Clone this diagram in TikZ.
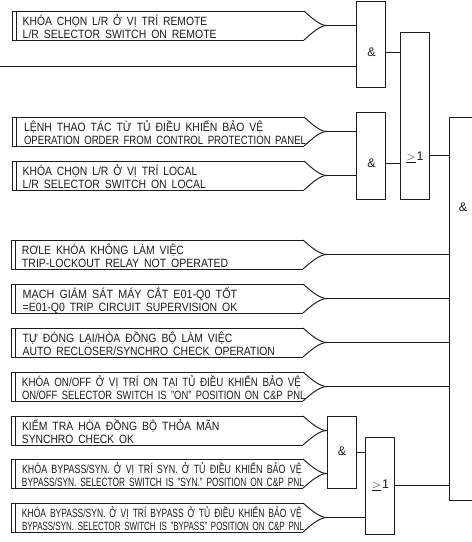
\documentclass[tikz,border=0pt]{standalone}
\usepackage{fontspec}
\setmainfont[WordSpace=1.7]{Liberation Sans}
\usetikzlibrary{calc}
\definecolor{ink}{HTML}{1C1C1C}
\tikzset{
  wire/.style={draw=ink,line width=0.95pt},
  gate/.style={draw=ink,line width=0.95pt,rectangle,inner sep=0pt,outer sep=0pt,minimum width=29pt},
  captxt/.style={anchor=base west,inner sep=0pt,outer sep=0pt,text=ink,font=\fontsize{12}{13}\selectfont},
  sym/.style={inner sep=0pt,outer sep=0pt,text=ink,font=\fontsize{12.5}{13}\selectfont}
}
% fit text horizontally to a target width
\newcommand{\fitw}[2]{\setbox0\hbox{#2}\pgfmathsetmacro{\myr}{#1/\the\wd0}\scalebox{\myr}[1]{\box0}}
% name, xleft, top, textx, end1, text1, end2, text2
\newcommand{\inbox}[8]{%
  \coordinate (#1-tl) at (#2,#3);
  \coordinate (#1-bl) at (#2,#3+29);
  \coordinate (#1-tr) at (#2+292,#3);
  \coordinate (#1-br) at (#2+292,#3+29);
  \coordinate (#1-il) at (#2+4.5,#3);
  \coordinate (#1-ib) at (#2+4.5,#3+29);
  \coordinate (#1-tip) at (327,#3+14.5);
  \draw[wire] (#1-tr) -- (#1-tl) -- (#1-bl) -- (#1-br);
  \draw[wire] (#1-il) -- (#1-ib);
  \draw[wire] (#1-tr) .. controls ($(#1-tr)+(9,8)$) and ($(#1-tip)+(-7,0)$) .. (#1-tip);
  \draw[wire] (#1-br) .. controls ($(#1-br)+(9,-8)$) and ($(#1-tip)+(-7,0)$) .. (#1-tip);
  \pgfmathsetmacro{\wa}{#5-#4}\pgfmathsetmacro{\wb}{#7-#4}
  \node[captxt] (#1-a) at (#4,#3+14) {\fitw{\wa}{#6}};
  \node[captxt] (#1-b) at (#4,#3+27.4) {\fitw{\wb}{#8}};
}
\begin{document}
\begin{tikzpicture}[x=1pt,y=-1pt]
\useasboundingbox (0,0) rectangle (472,542);
\inbox{a}{12}{11}{22.7}{207.3}{KHÓA CHỌN L/R Ở VỊ TRÍ REMOTE}{216.7}{L/R SELECTOR SWITCH ON REMOTE}
\inbox{b}{12}{117}{24}{263.3}{LỆNH THAO TÁC TỪ TỦ ĐIỀU KHIỂN BẢO VỆ}{306}{OPERATION ORDER FROM CONTROL PROTECTION PANEL}
\inbox{c}{12}{161}{22.7}{197.3}{KHÓA CHỌN L/R Ở VỊ TRÍ LOCAL}{206}{L/R SELECTOR SWITCH ON LOCAL}
\inbox{d}{11}{240}{22}{184}{RƠLE KHÓA KHÔNG LÀM VIỆC}{228.3}{TRIP-LOCKOUT RELAY NOT OPERATED}
\inbox{e}{11}{284}{22.7}{237.3}{MẠCH GIÁM SÁT MÁY CẮT E01-Q0 TỐT}{237.3}{=E01-Q0 TRIP CIRCUIT SUPERVISION OK}
\inbox{f}{11}{328}{22.7}{232.3}{TỰ ĐÓNG LẠI/HÒA ĐỒNG BỘ LÀM VIỆC}{275}{AUTO RECLOSER/SYNCHRO CHECK OPERATION}
\inbox{g}{11}{372}{22}{301}{KHÓA ON/OFF Ở VỊ TRÍ ON TẠI TỦ ĐIỀU KHIỂN BẢO VỆ}{305.3}{ON/OFF SELECTOR SWITCH IS "ON" POSITION ON C\&P PNL}
\inbox{h}{11}{416}{22}{219.3}{KIỂM TRA HÒA ĐỒNG BỘ THỎA MÃN}{134}{SYNCHRO CHECK OK}
\inbox{i}{11}{459}{22}{301.7}{KHÓA BYPASS/SYN. Ở VỊ TRÍ SYN. Ở TỦ ĐIỀU KHIỂN BẢO VỆ}{304}{BYPASS/SYN. SELECTOR SWITCH IS "SYN." POSITION ON C\&P PNL}
\inbox{j}{11}{503}{22}{301.7}{KHÓA BYPASS/SYN. Ở VỊ TRÍ BYPASS Ở TỦ ĐIỀU KHIỂN BẢO VỆ}{304}{BYPASS/SYN. SELECTOR SWITCH IS "BYPASS" POSITION ON C\&P PNL}

\node[gate,minimum height=86pt] (and1) at (370.5,44) {};
\node[gate,minimum height=87pt] (and2) at (370.5,155.5) {};
\node[gate,minimum height=167pt] (or1) at (414.5,115.5) {};
\node[gate,minimum height=72pt] (and3) at (341.5,452) {};
\node[gate,minimum height=97pt] (or2) at (379.5,485.5) {};

\node[sym] (and1-l) at (371.5,52) {\&};
\node[sym] (and2-l) at (371.5,163) {\&};
\node[sym] (and3-l) at (342,451) {\&};
\node[sym] (big-l) at (463,207) {\&};
\node[sym] (or1-l) at (415,157) {$\underline{\mathrm{>}}$\kern1pt 1};
\node[sym] (or2-l) at (380.5,485) {$\underline{\mathrm{>}}$\kern1pt 1};

\coordinate (bigt) at (449,117);
\coordinate (bigb) at (449,500);
\coordinate (bigtr) at (472,117);
\coordinate (bigbr) at (472,500);
\coordinate (free) at (0,66);
\draw[wire] (bigtr) -- (bigt) -- (bigb) -- (bigbr);

\draw[wire] (a-tip) -- (a-tip -| and1.west);
\draw[wire] (free) -- (free -| and1.west);
\draw[wire] (b-tip) -- (b-tip -| and2.west);
\draw[wire] (c-tip) -- (c-tip -| and2.west);
\draw[wire] (d-tip) -- (d-tip -| bigt);
\draw[wire] (e-tip) -- (e-tip -| bigt);
\draw[wire] (f-tip) -- (f-tip -| bigt);
\draw[wire] (g-tip) -- (g-tip -| bigt);
\draw[wire] (h-tip) -- (h-tip -| and3.west);
\draw[wire] (i-tip) -- (i-tip -| and3.west);
\draw[wire] (j-tip) -- (j-tip -| or2.west);

\coordinate (o1) at (385,52);
\coordinate (o2) at (385,163);
\coordinate (o3) at (429,155);
\coordinate (o4) at (356,452);
\coordinate (o5) at (394,485);
\draw[wire] (and1.east |- o1) -- (or1.west |- o1);
\draw[wire] (and2.east |- o2) -- (or1.west |- o2);
\draw[wire] (or1.east |- o3) -- (bigt |- o3);
\draw[wire] (and3.east |- o4) -- (or2.west |- o4);
\draw[wire] (or2.east |- o5) -- (bigt |- o5);
\end{tikzpicture}
\end{document}
